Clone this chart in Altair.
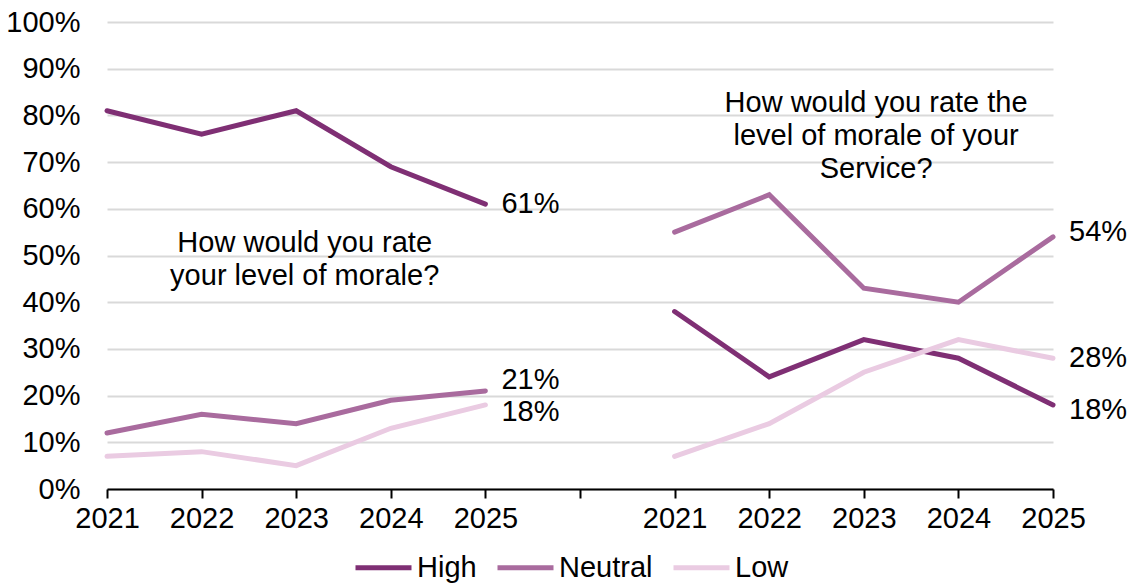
import altair as alt
import pandas as pd

# Survey years shown on each half of the chart
years = ["2021", "2022", "2023", "2024", "2025"]
series = ["High", "Neutral", "Low"]
colors = ["#7F2F74", "#A96B9E", "#EACBE2"]

# "How would you rate your level of morale?" (percent of respondents)
own_high = [81, 76, 81, 69, 61]
own_neutral = [12, 16, 14, 19, 21]
own_low = [7, 8, 5, 13, 18]

# "How would you rate the level of morale of your Service?"
svc_high = [38, 24, 32, 28, 18]
svc_neutral = [55, 63, 43, 40, 54]
svc_low = [7, 14, 25, 32, 28]

questions = [
    ("own", 0, {"High": own_high, "Neutral": own_neutral, "Low": own_low}),
    ("svc", 6, {"High": svc_high, "Neutral": svc_neutral, "Low": svc_low}),
]

# small vertical nudges (px) so the end labels do not collide
label_nudge = {
    ("own", "High"): 0, ("own", "Neutral"): -11, ("own", "Low"): 7,
    ("svc", "High"): 5, ("svc", "Neutral"): -5, ("svc", "Low"): 0,
}

rows = []
for q, start, data in questions:
    for s in series:
        for i, (yr, v) in enumerate(zip(years, data[s])):
            rows.append({"q": q, "series": s, "pos": start + i, "year": yr,
                         "value": v / 100, "last": i == len(years) - 1})
df = pd.DataFrame(rows)

tick_labels = years + [""] + years
label_expr = "[" + ",".join(f"'{t}'" for t in tick_labels) + "][datum.value]"

FONT = "Liberation Sans"
FS = 29

x = alt.X("pos:Q", scale=alt.Scale(domain=[0, 10], nice=False, zero=False),
          axis=alt.Axis(values=list(range(11)), labelExpr=label_expr, title=None,
                        grid=False, domain=True, domainColor="#000000", domainWidth=2,
                        ticks=True, tickColor="#000000", tickWidth=2, tickSize=9,
                        labelPadding=6, labelFontSize=FS, labelColor="#000000",
                        labelFont=FONT, labelFlush=False, labelOverlap=False))
y = alt.Y("value:Q", scale=alt.Scale(domain=[0, 1], nice=False),
          axis=alt.Axis(values=[i / 10 for i in range(11)], format=".0%", title=None,
                        grid=True, gridColor="#D9D9D9", gridWidth=2,
                        domain=False, ticks=False, tickSize=0, labelPadding=27,
                        labelFontSize=FS, labelColor="#000000", labelFont=FONT))

color = alt.Color("series:N", scale=alt.Scale(domain=series, range=colors),
                  legend=alt.Legend(title=None, orient="none", direction="horizontal",
                                    legendX=246, legendY=515, symbolType="stroke",
                                    symbolSize=3136, symbolStrokeWidth=5,
                                    labelFontSize=FS, labelFont=FONT,
                                    labelColor="#000000", labelOffset=3,
                                    columnPadding=10))

lines = alt.Chart(df).mark_line(strokeWidth=5, strokeCap="round", strokeJoin="miter").encode(
    x=x, y=y, color=color, detail="q:N",
    order="pos:Q",
)

# percentage labels at the end of each line
end_layers = []
for (q, s), nudge in label_nudge.items():
    end_layers.append(
        alt.Chart(df).transform_filter(
            f"datum.last && datum.q == '{q}' && datum.series == '{s}'"
        ).mark_text(
            align="left", baseline="middle", dx=16, dy=nudge,
            fontSize=FS, font=FONT, color="#000000"
        ).encode(
            x="pos:Q", y="value:Q",
            text=alt.Text("value:Q", format=".0%"),
        )
    )

notes = pd.DataFrame({
    "pos": [2.09, 8.13],
    "value": [0.557, 0.857],
    "text": ["How would you rate\nyour level of morale?",
             "How would you rate the\nlevel of morale of your\nService?"],
})
note_text = alt.Chart(notes).mark_text(
    align="center", baseline="top", lineBreak="\n", lineHeight=33,
    fontSize=FS, font=FONT, color="#000000"
).encode(x="pos:Q", y="value:Q", text="text:N")

chart = alt.layer(lines, *end_layers, note_text).properties(
    width=946, height=467,
    background="#FFFFFF",
    autosize=alt.AutoSizeParams(type="none"),
    padding={"left": 107, "top": 22, "right": 79, "bottom": 94},
).configure_view(strokeWidth=0, stroke=None)

chart.save("out.html", embed_options={"renderer": "svg", "actions": False})
